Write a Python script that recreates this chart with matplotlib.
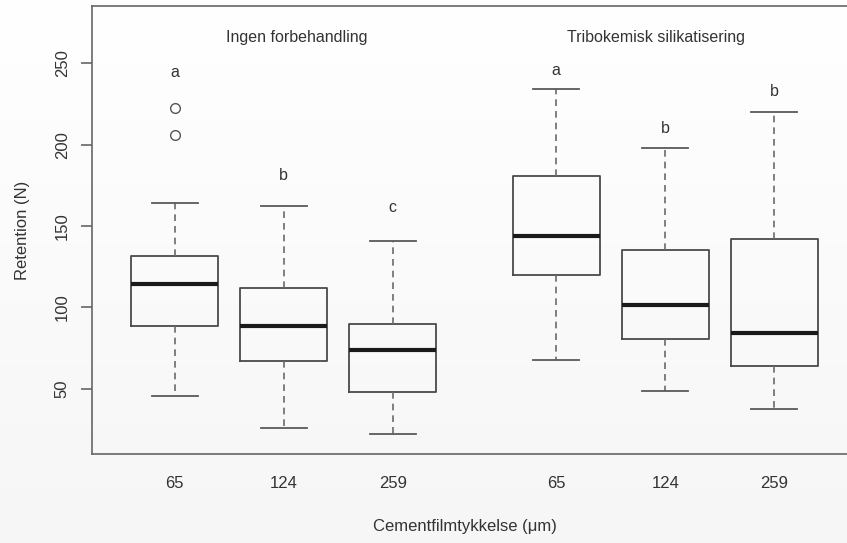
import matplotlib
matplotlib.use("Agg")
import matplotlib.pyplot as plt
import numpy as np

plt.rcParams['font.family'] = ['Liberation Sans', 'DejaVu Sans']

# Data
tick_labels = ["65", "124", "259", "65", "124", "259"]
positions = [1, 2, 3, 4.5, 5.5, 6.5]
whisker_low = [45.7, 26.0, 22.0, 67.6, 48.8, 37.7]
q1 = [88.5, 67.0, 48.0, 119.7, 80.5, 63.8]
medians = [114.3, 88.7, 73.8, 143.8, 101.6, 84.0]
q3 = [131.7, 111.9, 89.9, 180.8, 135.2, 142.0]
whisker_high = [164.3, 162.4, 140.9, 234.1, 198.0, 220.0]
outliers = [[222.8, 206.0], [], [], [], [], []]
letters = ["a", "b", "c", "a", "b", "b"]
letter_y = [241.5, 178.0, 158.5, 243.0, 207.0, 229.8]
group_titles = ["Ingen forbehandling", "Tribokemisk silikatisering"]
group_title_x = [2.12, 5.42]
group_title_y = 266

W, H = 847, 543
fig = plt.figure(figsize=(W / 100, H / 100), dpi=100)

# background gradient
bg = fig.add_axes([0, 0, 1, 1], zorder=-10)
grad = np.linspace(1.0, 0.965, 256).reshape(-1, 1)
bg.imshow(np.dstack([grad, grad, grad]), aspect='auto', extent=[0, 1, 0, 1],
          origin='upper')
bg.axis('off')

left, right, top, bottom = 92, 857, 6, 454
ax = fig.add_axes([left / W, 1 - bottom / H, (right - left) / W, (bottom - top) / H])
ax.patch.set_alpha(0)

stats = []
for i in range(len(positions)):
    stats.append(dict(med=medians[i], q1=q1[i], q3=q3[i],
                      whislo=whisker_low[i], whishi=whisker_high[i],
                      fliers=outliers[i]))

ax.bxp(stats, positions=positions, widths=0.8, showfliers=True,
       boxprops=dict(color='#4a4a4a', linewidth=1.3),
       medianprops=dict(color='#1a1a1a', linewidth=3.0),
       whiskerprops=dict(color='#6a6a6a', linewidth=1.2, linestyle=(0, (4, 3))),
       capprops=dict(color='#5a5a5a', linewidth=1.3),
       flierprops=dict(marker='o', markerfacecolor='none', markeredgecolor='#555555',
                       markersize=7, markeredgewidth=1.0),
       capwidths=0.42)

for x, y, t in zip(positions, letter_y, letters):
    ax.text(x, y, t, ha='center', va='baseline', fontsize=11.5, color='#333333')

for x, t in zip(group_title_x, group_titles):
    ax.text(x, group_title_y, t, ha='center', va='center', fontsize=11.5, color='#333333')

ax.set_xlim(0.24, 7.26)
ax.set_ylim(9.9, 285.2)
ax.set_xticks(positions)
ax.set_xticklabels(tick_labels)
ax.set_yticks([50, 100, 150, 200, 250])
ax.set_yticklabels(["50", "100", "150", "200", "250"], rotation=90, va='center')

for s in ['right']:
    ax.spines[s].set_visible(False)
for s in ['left', 'top', 'bottom']:
    ax.spines[s].set_color('#666666')
    ax.spines[s].set_linewidth(1.2)

ax.tick_params(axis='y', length=8, width=1.2, color='#666666', labelsize=12,
               labelcolor='#333333', pad=8)
ax.tick_params(axis='x', length=0, labelsize=12, labelcolor='#333333', pad=16)

ax.set_ylabel("Retention (N)", fontsize=12, color='#333333', labelpad=18)
fig.text(465 / W, 1 - 527 / H, "Cementfilmtykkelse (\u03bcm)", ha='center', va='center',
         fontsize=12, color='#333333')

fig.savefig("out.png", dpi=100)
